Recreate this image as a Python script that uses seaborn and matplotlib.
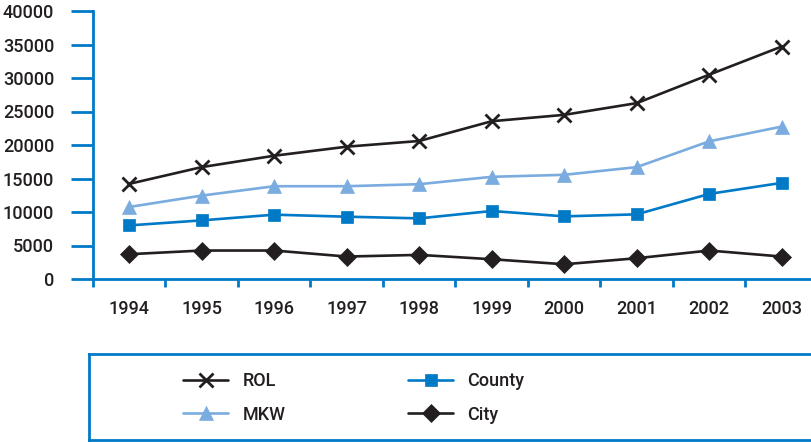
import matplotlib
matplotlib.use("Agg")
import matplotlib.pyplot as plt
from matplotlib.ticker import FixedLocator, NullFormatter
import seaborn as sns
import pandas as pd

years = ["1994", "1995", "1996", "1997", "1998", "1999", "2000", "2001", "2002", "2003"]
rol = [14200, 16700, 18400, 19750, 20600, 23550, 24500, 26250, 30500, 34700]
mkw = [10750, 12450, 13850, 13850, 14150, 15250, 15550, 16700, 20550, 22750]
county = [8000, 8750, 9600, 9300, 9050, 10150, 9350, 9650, 12700, 14350]
city = [3700, 4250, 4250, 3350, 3600, 2950, 2200, 3100, 4250, 3350]
series_names = ["ROL", "MKW", "County", "City"]
yticks = [0, 5000, 10000, 15000, 20000, 25000, 30000, 35000, 40000]

DARK = "#231f20"
BLUE = "#0079c6"
LIGHT = "#7aacdf"
FS = 13

sns.set_theme(style="white")
plt.rcParams["font.family"] = ["Roboto", "DejaVu Sans"]
plt.rcParams["font.weight"] = "medium"
plt.rcParams["text.color"] = DARK

fig = plt.figure(figsize=(8.12, 4.42), dpi=100)
W, H = 812, 442
ax = fig.add_axes([93 / W, (H - 279) / H, 1 - 93 / W, (279 - 11) / H])

palette = {"ROL": DARK, "MKW": LIGHT, "County": BLUE, "City": DARK}
markers = {"ROL": "x", "MKW": "^", "County": "s", "City": "D"}
sizes_ms = {"ROL": 10, "MKW": 10, "County": 9, "City": 9}

handles = {}
for name, vals in zip(series_names, [rol, mkw, county, city]):
    d = pd.DataFrame({"x": list(range(len(years))), "value": vals})
    sns.lineplot(data=d, x="x", y="value", color=palette[name], marker=markers[name],
                 markersize=sizes_ms[name], markeredgecolor=palette[name],
                 markerfacecolor=palette[name],
                 markeredgewidth=(2.0 if name == "ROL" else 0.5),
                 linewidth=1.9, ax=ax, legend=False)
    handles[name] = ax.get_lines()[-1]

ax.set_xlim(-0.5, -0.5 + (812 - 93) / 72.5)
ax.set_ylim(0, 40000)
ax.set_yticks(yticks)
ax.set_yticklabels([str(t) for t in yticks])
ax.xaxis.set_major_locator(FixedLocator(list(range(len(years)))))
ax.set_xticklabels(years)
ax.xaxis.set_minor_locator(FixedLocator([i - 0.5 for i in range(len(years) + 1)]))
ax.xaxis.set_minor_formatter(NullFormatter())
ax.tick_params(axis="x", which="major", length=0, pad=15, labelsize=FS, colors=DARK)
ax.tick_params(axis="x", which="minor", length=6, width=2, color=BLUE, direction="out", bottom=True)
ax.tick_params(axis="y", length=16, width=2, color=BLUE, direction="out", pad=12,
               labelsize=FS, labelcolor=DARK, left=True)
for s in ["top", "right"]:
    ax.spines[s].set_visible(False)
for s in ["left", "bottom"]:
    ax.spines[s].set_color(BLUE)
    ax.spines[s].set_linewidth(2)
ax.set_xlabel("")
ax.set_ylabel("")
ax.grid(False)

# legend box
lax = fig.add_axes([89 / W, (H - 440) / H, 1.0, (440 - 354) / H])
lax.set_xticks([])
lax.set_yticks([])
lax.set_xlim(0, 1)
lax.set_ylim(0, 1)
for s in ["left", "top", "bottom", "right"]:
    lax.spines[s].set_color(BLUE)
    lax.spines[s].set_linewidth(2)
lax.patch.set_alpha(0)

legkw = dict(frameon=False, loc="center left", borderpad=0, handlelength=2.5,
             handletextpad=0.8, labelspacing=0.85, fontsize=FS, borderaxespad=0)
leg1 = fig.legend([handles["ROL"], handles["MKW"]], ["ROL", "MKW"],
                  bbox_to_anchor=(183 / W, (H - 398) / H), **legkw)
leg2 = fig.legend([handles["County"], handles["City"]], ["County", "City"],
                  bbox_to_anchor=(408 / W, (H - 398) / H), **legkw)

fig.savefig("out.png", dpi=100)
